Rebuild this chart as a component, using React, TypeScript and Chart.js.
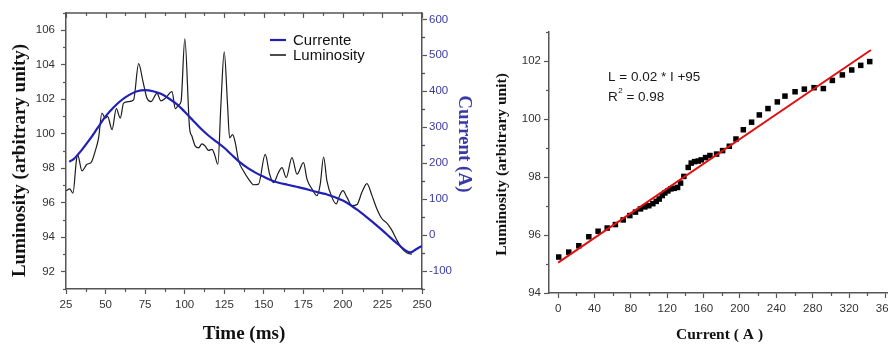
import React, { useEffect, useRef } from 'react';
import { Chart, registerables } from 'chart.js';

Chart.register(...registerables);

// ---------- Left chart data ----------
const timeMs = [25.2, 27.3, 29.4, 31.5, 32.3, 35.1, 38.3, 40.8, 43.5, 45.6, 47.7, 49.8, 51.3, 54.1, 56.8, 59.3, 61.4, 64.6, 67.7, 70.9, 73.7, 76.2, 78.7, 82.5, 85.0, 87.7, 92.0, 94.1, 96.2, 97.7, 100.1, 103.1, 104.6, 106.7, 108.8, 110.9, 113.0, 115.1, 117.3, 118.9, 121.0, 122.9, 125.0, 127.1, 128.4, 130.3, 132.0, 134.1, 137.2, 140.4, 143.6, 146.7, 150.9, 153.7, 156.2, 159.3, 161.5, 164.2, 167.8, 171.0, 175.1, 177.3, 180.5, 183.6, 185.7, 187.8, 189.9, 193.1, 195.8, 197.9, 200.0, 202.6, 205.7, 208.9, 212.0, 215.2, 218.4, 221.5, 224.7, 228.2, 231.0, 234.2, 237.3, 240.5, 243.6];
const luminosity = [96.7, 96.8, 96.55, 98.4, 98.8, 97.85, 98.23, 98.32, 99.0, 99.76, 101.2, 100.9, 101.0, 100.24, 101.45, 100.9, 101.77, 101.86, 101.96, 104.06, 103.0, 102.05, 101.86, 102.34, 101.9, 102.05, 102.44, 101.45, 101.67, 101.86, 105.5, 100.33, 99.85, 99.28, 99.18, 99.41, 99.28, 99.03, 99.09, 98.8, 98.23, 101.67, 104.74, 101.67, 99.76, 99.95, 99.47, 98.42, 97.84, 97.37, 97.04, 97.08, 98.8, 97.65, 97.17, 97.75, 98.03, 97.46, 98.61, 97.65, 98.32, 97.37, 96.79, 96.41, 97.08, 98.65, 97.27, 96.31, 95.93, 96.41, 96.7, 96.31, 95.83, 95.89, 96.6, 97.11, 96.41, 95.64, 95.07, 94.78, 94.4, 93.82, 93.35, 93.09, 93.02];

const currentTime = [27, 30, 35, 40, 45, 50, 55, 60, 65, 70, 75, 80, 85, 90, 95, 100, 105, 110, 115, 120, 125, 130, 135, 140, 145, 150, 155, 160, 165, 170, 175, 180, 185, 190, 195, 200, 205, 210, 215, 220, 225, 230, 235, 240, 243, 246, 250];
const currentA = [204, 212, 237, 266, 298, 330, 355, 375, 390, 400, 403, 400, 393, 380, 364, 343, 320, 297, 277, 260, 243, 222, 202, 186, 173, 162, 152, 145, 140, 135, 130, 124, 118, 113, 105, 96, 83, 67, 50, 32, 13, -7, -26, -44, -48, -40, -30];

const timeTicks = [25, 50, 75, 100, 125, 150, 175, 200, 225, 250];
const lumTicks = [92, 94, 96, 98, 100, 102, 104, 106];
const currentTicks = [-100, 0, 100, 200, 300, 400, 500, 600];
const legendLabels = ['Currente', 'Luminosity'];

// ---------- Right chart data ----------
const scatterCurrent = [0.7, 11.7, 22.8, 33.8, 44, 54, 63, 71.6, 78.9, 85.1, 90.6, 95.4, 99.8, 104.2, 107.9, 111.2, 114.5, 117.4, 120.7, 124, 127.7, 131.4, 134.7, 138.3, 143.1, 146.4, 150.1, 154.1, 157.4, 162.2, 167, 174.3, 180.9, 188.3, 195.6, 203.7, 212.8, 221.3, 230.8, 241.1, 249.5, 260.6, 270.8, 281.5, 291.7, 301.6, 312.6, 322.9, 332.8, 342.7];
const scatterLum = [95.24, 95.41, 95.63, 95.94, 96.13, 96.24, 96.36, 96.52, 96.67, 96.79, 96.9, 96.97, 97.01, 97.08, 97.16, 97.24, 97.36, 97.45, 97.52, 97.59, 97.61, 97.64, 97.79, 98.02, 98.33, 98.48, 98.53, 98.55, 98.59, 98.67, 98.74, 98.79, 98.91, 99.06, 99.31, 99.63, 99.89, 100.14, 100.36, 100.59, 100.79, 100.94, 101.03, 101.08, 101.05, 101.33, 101.52, 101.69, 101.85, 101.98];
const fitCurrent = [0, 344];
const fitLum = [95.05, 102.38];
const scatterXTicks = [0, 40, 80, 120, 160, 200, 240, 280, 320, 360];
const scatterYTicks = [94, 96, 98, 100, 102];
const fitEquation = 'L = 0.02 * I +95';
const fitR2 = '0.98';

// ---------- styling ----------
const AXIS = '#555';
const TICK_TXT = '#333';
const BLUE = '#2020b8';
const BLUE_TXT = '#3a3aa6';
const SANS = "'Liberation Sans', Arial, sans-serif";
const SERIF = "'Liberation Serif', 'Times New Roman', serif";

type MinorSpec = { axis: string; values: number[]; edge: 'bottom' | 'top' | 'left' | 'right'; len: number };

function makeFramePlugin(id: string, specs: MinorSpec[], extra?: (chart: any) => void, topLine = false) {
  return {
    id,
    afterDraw(chart: any) {
      const ctx = chart.ctx;
      const a = chart.chartArea;
      ctx.save();
      ctx.strokeStyle = AXIS;
      ctx.lineWidth = 1.2;
      if (topLine) {
        ctx.beginPath();
        ctx.lineWidth = 1.5;
        ctx.moveTo(a.left, a.top);
        ctx.lineTo(a.right, a.top);
        ctx.stroke();
        ctx.lineWidth = 1.2;
      }
      for (const s of specs) {
        const sc = chart.scales[s.axis];
        for (const v of s.values) {
          if (v < sc.min || v > sc.max) continue;
          const p = Math.round(sc.getPixelForValue(v)) + 0.5;
          ctx.beginPath();
          if (s.edge === 'bottom') { ctx.moveTo(p, a.bottom); ctx.lineTo(p, a.bottom + s.len); }
          else if (s.edge === 'top') { ctx.moveTo(p, a.top); ctx.lineTo(p, a.top + s.len); }
          else if (s.edge === 'left') { ctx.moveTo(a.left, p); ctx.lineTo(a.left - s.len, p); }
          else { ctx.moveTo(a.right, p); ctx.lineTo(a.right + s.len, p); }
          ctx.stroke();
        }
      }
      ctx.restore();
      if (extra) extra(chart);
    },
  };
}

const range = (a: number, b: number, step: number) => {
  const out: number[] = [];
  for (let v = a; v <= b + 1e-9; v += step) out.push(v);
  return out;
};

export default function App() {
  const leftRef = useRef<HTMLCanvasElement>(null);
  const rightRef = useRef<HTMLCanvasElement>(null);

  useEffect(() => {
    const legendDraw = (chart: any) => {
      const ctx = chart.ctx;
      ctx.save();
      ctx.font = `15px ${SANS}`;
      ctx.textBaseline = 'middle';
      ctx.fillStyle = '#111';
      const colors = [BLUE, '#111'];
      const widths = [2.2, 1.5];
      legendLabels.forEach((lab, i) => {
        const y = 40 + i * 15;
        ctx.strokeStyle = colors[i];
        ctx.lineWidth = widths[i];
        ctx.beginPath();
        ctx.moveTo(270, y);
        ctx.lineTo(286, y);
        ctx.stroke();
        ctx.fillText(lab, 293, y + 0.5);
      });
      ctx.restore();
    };

    const left = new Chart(leftRef.current!, {
      type: 'line',
      data: {
        datasets: [
          {
            label: legendLabels[0],
            data: currentTime.map((t, i) => ({ x: t, y: currentA[i] })),
            yAxisID: 'y1',
            borderColor: BLUE,
            borderWidth: 2.2,
            pointRadius: 0,
            cubicInterpolationMode: 'monotone',
            fill: false,
          },
          {
            label: legendLabels[1],
            data: timeMs.map((t, i) => ({ x: t, y: luminosity[i] })),
            yAxisID: 'y',
            borderColor: '#1c1c1c',
            borderWidth: 1.2,
            pointRadius: 0,
            cubicInterpolationMode: 'monotone',
            fill: false,
          },
        ],
      },
      options: {
        animation: false,
        responsive: false,
        maintainAspectRatio: false,
        layout: { padding: { top: 10, left: 0, right: 0, bottom: 0 } },
        plugins: { legend: { display: false }, tooltip: { enabled: false } },
        scales: {
          x: {
            type: 'linear',
            min: 25,
            max: 250,
            afterBuildTicks: (s: any) => { s.ticks = timeTicks.map((v) => ({ value: v })); },
            afterFit: (s: any) => { s.height = 56; },
            grid: { drawOnChartArea: false, tickLength: 5, color: AXIS, tickWidth: 1.2 },
            border: { color: AXIS, width: 1.5 },
            ticks: { color: TICK_TXT, padding: 4, maxRotation: 0, autoSkip: false, font: { family: SANS, size: 11.5 } },
            title: { display: true, text: 'Time (ms)', color: '#111', padding: { top: 0, bottom: 0 }, font: { family: SERIF, size: 19, weight: 'bold' } },
          },
          y: {
            position: 'left',
            min: 91,
            max: 107,
            afterBuildTicks: (s: any) => { s.ticks = lumTicks.map((v) => ({ value: v })); },
            afterFit: (s: any) => { s.width = 66; },
            grid: { drawOnChartArea: false, tickLength: 5, color: AXIS, tickWidth: 1.2 },
            border: { color: AXIS, width: 1.5 },
            ticks: { color: TICK_TXT, padding: 6, font: { family: SANS, size: 11.5 } },
            title: { display: true, text: 'Luminosity (arbitrary unity)    ', color: '#111', padding: { top: 9, bottom: 0 }, font: { family: SERIF, size: 19, weight: 'bold' } },
          },
          y1: {
            position: 'right',
            min: -150,
            max: 618,
            afterBuildTicks: (s: any) => { s.ticks = currentTicks.map((v) => ({ value: v })); },
            afterFit: (s: any) => { s.width = 58; },
            grid: { drawOnChartArea: false, tickLength: 5, color: AXIS, tickWidth: 1.2 },
            border: { color: AXIS, width: 1.5 },
            ticks: { color: BLUE_TXT, padding: 2, font: { family: SANS, size: 11.5 } },
            title: { display: true, text: 'Current (A)   ', color: BLUE_TXT, padding: { top: 5, bottom: 0 }, font: { family: SERIF, size: 19, weight: 'bold' } },
          },
        },
      },
      plugins: [
        makeFramePlugin(
          'leftFrame',
          [
            { axis: 'x', values: range(37.5, 237.5, 25), edge: 'bottom', len: 3 },
            { axis: 'x', values: range(37.5, 237.5, 25), edge: 'top', len: 3 },
            { axis: 'x', values: timeTicks, edge: 'top', len: 5 },
            { axis: 'y', values: range(91, 107, 2), edge: 'left', len: 3 },
            { axis: 'y1', values: range(-150, 600, 100).concat(range(-50, 550, 100)).filter((v) => currentTicks.indexOf(v) < 0), edge: 'right', len: 3 },
          ],
          legendDraw,
          true
        ),
      ],
    } as any);

    const annotationDraw = (chart: any) => {
      const ctx = chart.ctx;
      ctx.save();
      ctx.fillStyle = '#1a1a1a';
      ctx.textBaseline = 'middle';
      ctx.font = `13.5px ${SANS}`;
      const x0 = 138;
      ctx.fillText(fitEquation, x0, 77);
      ctx.fillText('R', x0, 97);
      const rw = ctx.measureText('R').width;
      ctx.font = `8px ${SANS}`;
      ctx.fillText('2', x0 + rw + 0.5, 91);
      const sw = ctx.measureText('2').width;
      ctx.font = `13.5px ${SANS}`;
      ctx.fillText(' = ' + fitR2, x0 + rw + sw + 0.5, 97);
      ctx.restore();
    };

    const right = new Chart(rightRef.current!, {
      type: 'scatter',
      data: {
        datasets: [
          {
            label: 'fit',
            type: 'line',
            data: fitCurrent.map((c, i) => ({ x: c, y: fitLum[i] })),
            borderColor: '#e01010',
            borderWidth: 2,
            pointRadius: 0,
            showLine: true,
            fill: false,
          },
          {
            label: 'data',
            data: scatterCurrent.map((c, i) => ({ x: c, y: scatterLum[i] })),
            pointStyle: 'rect',
            pointRadius: 3.9,
            backgroundColor: '#000',
            borderColor: '#000',
            borderWidth: 0,
            showLine: false,
          },
        ],
      },
      options: {
        animation: false,
        responsive: false,
        maintainAspectRatio: false,
        layout: { padding: { top: 32, left: 0, right: 20, bottom: 0 } },
        plugins: { legend: { display: false }, tooltip: { enabled: false } },
        scales: {
          x: {
            type: 'linear',
            min: -10,
            max: 365,
            afterBuildTicks: (s: any) => { s.ticks = scatterXTicks.map((v) => ({ value: v })); },
            afterFit: (s: any) => { s.height = 52; },
            grid: { drawOnChartArea: false, tickLength: 5, color: AXIS, tickWidth: 1.2 },
            border: { color: AXIS, width: 1.5 },
            ticks: { color: TICK_TXT, padding: 4, maxRotation: 0, autoSkip: false, font: { family: SANS, size: 11.5 } },
            title: { display: true, text: 'Current ( A )', color: '#111', padding: { top: 0, bottom: 1 }, font: { family: SERIF, size: 15.5, weight: 'bold' } },
          },
          y: {
            position: 'left',
            min: 94,
            max: 103,
            afterBuildTicks: (s: any) => { s.ticks = scatterYTicks.map((v) => ({ value: v })); },
            afterFit: (s: any) => { s.width = 79; },
            grid: { drawOnChartArea: false, tickLength: 5, color: AXIS, tickWidth: 1.2 },
            border: { color: AXIS, width: 1.5 },
            ticks: { color: TICK_TXT, padding: 3, font: { family: SANS, size: 11.5 } },
            title: { display: true, text: 'Luminosity (arbitrary unit) ', color: '#111', padding: { top: 23, bottom: 0 }, font: { family: SERIF, size: 15.5, weight: 'bold' } },
          },
        },
      },
      plugins: [
        makeFramePlugin(
          'rightFrame',
          [
            { axis: 'x', values: range(20, 340, 40), edge: 'bottom', len: 3 },
            { axis: 'y', values: range(95, 103, 2), edge: 'left', len: 3 },
          ],
          annotationDraw
        ),
      ],
    } as any);

    return () => {
      left.destroy();
      right.destroy();
    };
  }, []);

  return (
    <div style={{ position: 'fixed', left: 0, top: 0, width: 888, height: 345, overflow: 'hidden', background: '#fff' }}>
      <canvas ref={leftRef} width={480} height={345} style={{ position: 'absolute', left: 0, top: 0, width: 480, height: 345 }} />
      <canvas ref={rightRef} width={440} height={345} style={{ position: 'absolute', left: 470, top: 0, width: 440, height: 345 }} />
    </div>
  );
}
